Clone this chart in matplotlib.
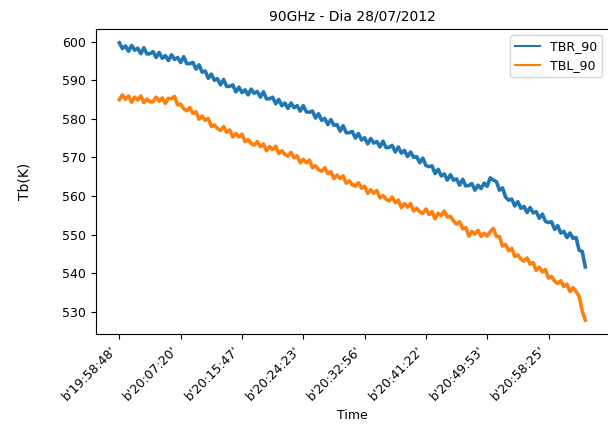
import matplotlib
matplotlib.use("Agg")
import matplotlib.pyplot as plt

title = "90GHz - Dia 28/07/2012"
tick_times = ["19:58:48", "20:07:20", "20:15:47", "20:24:23",
              "20:32:56", "20:41:22", "20:49:53", "20:58:25"]
tick_step = 20  # samples (in this reduced series) between labelled ticks

tbr_90 = [
    599.7, 598.2, 598.9, 597.5, 599.0, 597.8, 598.3, 596.9, 598.4, 596.8,
    596.9, 597.4, 595.9, 597.2, 595.7, 596.4, 595.1, 596.6, 595.4, 595.9,
    594.6, 596.1, 594.3, 594.3, 594.6, 592.9, 594.0, 592.1, 592.4, 590.5,
    591.6, 590.0, 590.4, 588.8, 590.2, 588.4, 588.4, 588.8, 587.0, 588.2,
    586.8, 587.5, 586.2, 587.7, 586.6, 587.1, 585.6, 587.0, 585.2, 585.2,
    585.6, 583.9, 585.0, 583.4, 584.1, 582.7, 584.1, 582.9, 583.4, 582.0,
    583.4, 581.8, 581.7, 582.0, 580.2, 581.3, 579.6, 580.1, 578.5, 579.8,
    578.3, 578.5, 576.8, 578.2, 576.4, 576.4, 576.7, 575.0, 576.2, 574.5,
    575.1, 573.5, 574.9, 573.7, 574.1, 572.7, 574.2, 572.5, 572.6, 573.1,
    571.4, 572.7, 571.1, 571.8, 570.2, 571.4, 570.0, 570.2, 568.6, 569.8,
    567.9, 567.6, 567.8, 565.8, 566.9, 565.2, 565.7, 564.1, 565.5, 564.1,
    564.4, 562.8, 564.3, 562.6, 562.7, 563.2, 561.5, 562.8, 561.9, 563.3,
    562.5, 564.7, 564.1, 563.7, 561.5, 562.1, 559.7, 558.9, 559.2, 557.4,
    558.5, 556.8, 557.3, 555.7, 557.0, 555.6, 555.9, 554.2, 555.3, 553.4,
    553.1, 553.3, 551.3, 552.3, 550.4, 550.8, 549.2, 550.4, 549.0, 549.2,
    545.9, 545.6, 541.6,
]

tbl_90 = [
    585.0, 586.2, 585.1, 585.9, 584.3, 585.6, 584.9, 585.9, 584.2, 585.1,
    584.4, 584.4, 585.6, 584.6, 585.4, 584.0, 585.3, 585.2, 585.8, 583.6,
    583.8, 582.6, 582.1, 582.9, 581.4, 581.8, 579.9, 580.7, 579.6, 580.1,
    578.0, 578.4, 577.5, 577.0, 578.0, 576.5, 577.1, 575.3, 576.2, 575.3,
    576.0, 574.1, 574.6, 573.6, 573.2, 574.1, 572.8, 573.5, 571.7, 572.8,
    572.0, 572.9, 571.0, 571.7, 570.8, 570.3, 571.3, 569.9, 570.4, 568.6,
    569.5, 568.6, 569.3, 567.3, 567.8, 566.8, 566.4, 567.3, 565.8, 566.3,
    564.5, 565.4, 564.5, 565.2, 563.3, 563.9, 562.9, 562.5, 563.4, 562.0,
    562.5, 560.7, 561.6, 560.7, 561.4, 559.5, 560.1, 559.2, 558.7, 559.7,
    558.3, 558.9, 557.0, 558.0, 557.1, 558.0, 556.1, 556.8, 555.9, 555.5,
    556.6, 555.2, 555.9, 554.1, 555.5, 554.9, 556.1, 554.5, 554.7, 553.5,
    552.7, 553.3, 551.5, 551.8, 549.6, 550.8, 550.1, 551.1, 549.5, 550.3,
    549.6, 550.7, 551.6, 549.5, 549.5, 547.0, 547.4, 545.8, 546.4, 544.3,
    544.7, 543.6, 543.1, 543.9, 542.3, 542.7, 540.7, 541.5, 540.3, 540.9,
    538.7, 539.1, 537.9, 537.3, 538.0, 536.5, 537.1, 535.2, 536.2, 535.2,
    534.0, 530.1, 527.8,
]

fig = plt.figure(figsize=(6.08, 4.26), dpi=100)
ax = fig.add_axes([0.158, 0.216, 0.843, 0.716])

x = list(range(len(tbr_90)))
ax.plot(x, tbr_90, color="#1f77b4", lw=2.6, label="TBR_90")
ax.plot(x, tbl_90, color="#ff7f0e", lw=2.6, label="TBL_90")

ax.set_xticks([i * tick_step for i in range(len(tick_times))])
ax.set_xticklabels([f"b'{t}'" for t in tick_times], rotation=45, ha="right")
ax.set_yticks([530, 540, 550, 560, 570, 580, 590, 600])

ax.set_title(title, fontsize=10)
ax.set_xlabel("Time", fontsize=9)
ax.set_ylabel("Tb(K)", fontsize=10, labelpad=22)
ax.tick_params(labelsize=9)
leg = ax.legend(loc="upper right", fontsize=9)
for h in leg.get_lines():
    h.set_linewidth(1.5)

fig.savefig("out.png", dpi=100)
